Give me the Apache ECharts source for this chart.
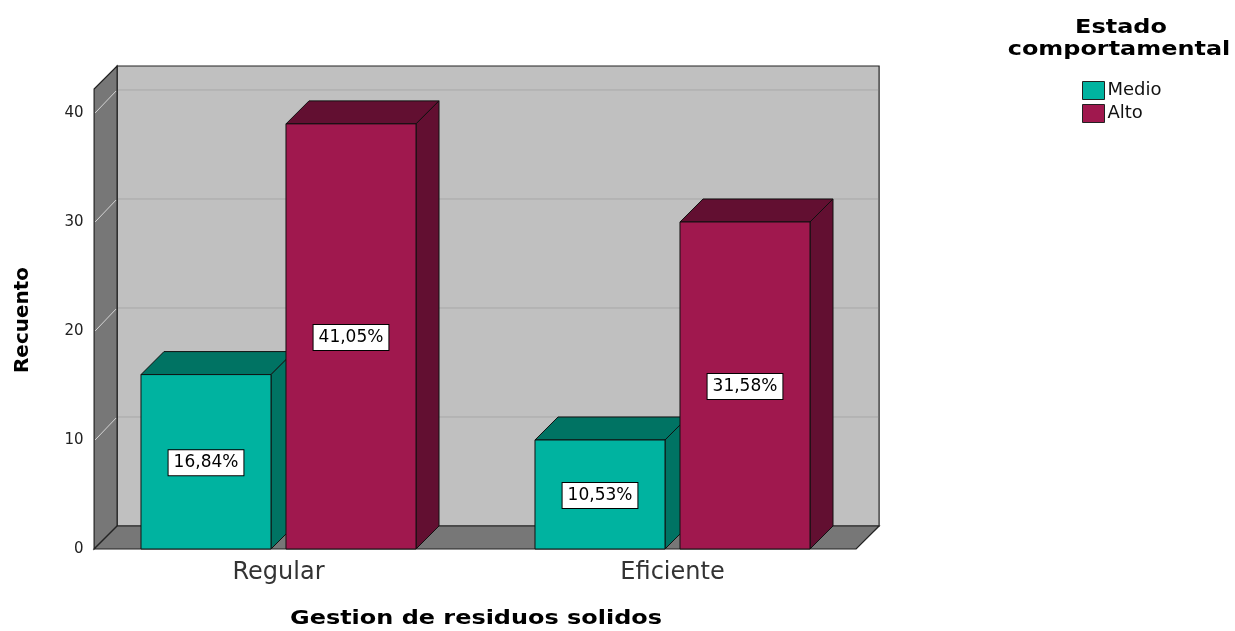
<!DOCTYPE html>
<html>
<head>
<meta charset="utf-8">
<script src="https://cdn.jsdelivr.net/npm/echarts@6/dist/echarts.min.js"></script>
<style>
  html, body { margin: 0; padding: 0; background: #fff; }
  #main { width: 1235px; height: 631px; }
</style>
</head>
<body>
<div id="main"></div>
<script>
var categories = ["Regular", "Eficiente"];
var medio = [16, 10];
var alto = [39, 30];
var yMax = 42.2;
var yInterval = 10;

var total = medio.concat(alto).reduce(function (a, b) { return a + b; }, 0);

var dom = document.getElementById("main");
var chart = echarts.init(dom);

// depth of the fake 3d box, pixels
var D = 23;
var BAR_W = 0.33;

function pct(v) {
  return (v / total * 100).toFixed(2).replace(".", ",") + "%";
}

function toData(arr) {
  return arr.map(function (v, i) { return [i, v]; });
}

function barRenderer(offset, front, dark) {
  return function (params, api) {
    var cat = api.value(0);
    var val = api.value(1);
    var top = api.coord([cat, val]);
    var base = api.coord([cat, 0]);
    var band = api.size([1, 0])[0];
    var w = band * BAR_W;
    var x = top[0] + band * offset;
    var yT = top[1], yB = base[1];
    var edge = { stroke: "#111", lineWidth: 1 };
    return {
      type: "group",
      children: [
        {
          type: "polygon",
          shape: { points: [[x, yT], [x + D, yT - D], [x + w + D, yT - D], [x + w, yT]] },
          style: Object.assign({ fill: dark }, edge)
        },
        {
          type: "polygon",
          shape: { points: [[x + w, yT], [x + w + D, yT - D], [x + w + D, yB - D], [x + w, yB]] },
          style: Object.assign({ fill: dark }, edge)
        },
        {
          type: "rect",
          shape: { x: x, y: yT, width: w, height: yB - yT },
          style: Object.assign({ fill: front }, edge)
        },
        {
          type: "text",
          x: x + w / 2,
          y: (yT + yB) / 2 + 1,
          style: {
            text: pct(val),
            fill: "#000",
            font: '17px "DejaVu Sans"',
            align: "center",
            verticalAlign: "middle",
            backgroundColor: "#fff",
            borderColor: "#000",
            borderWidth: 1,
            padding: [4, 5]
          }
        }
      ]
    };
  };
}

function wallRenderer(params, api) {
  var c0 = api.coord([0, 0]);
  var c1 = api.coord([1, 0]);
  var band = api.size([1, 0])[0];
  var xl = c0[0] - 0.468 * band;
  var xr = c1[0] + 0.466 * band;
  var y0 = c0[1];
  var yT = api.coord([0, yMax])[1];
  var edge = { stroke: "#222", lineWidth: 1.2 };
  var kids = [
    {
      type: "rect",
      shape: { x: xl + D, y: yT - D, width: xr - xl, height: y0 - yT },
      style: Object.assign({ fill: "#c0c0c0" }, edge)
    },
    {
      type: "polygon",
      shape: { points: [[xl, yT], [xl + D, yT - D], [xl + D, y0 - D], [xl, y0]] },
      style: Object.assign({ fill: "#777777" }, edge)
    },
    {
      type: "polygon",
      shape: { points: [[xl, y0], [xr, y0], [xr + D, y0 - D], [xl + D, y0 - D]] },
      style: Object.assign({ fill: "#777777" }, edge)
    }
  ];
  for (var v = yInterval; v <= yMax; v += yInterval) {
    var y = api.coord([0, v])[1];
    kids.push({
      type: "line",
      shape: { x1: xl + D + 1, y1: y - D, x2: xr + D - 1, y2: y - D },
      style: { stroke: "#a8a8a8", lineWidth: 1 }
    });
    kids.push({
      type: "line",
      shape: { x1: xl + 1, y1: y, x2: xl + D - 1, y2: y - D + 1 },
      style: { stroke: "#d4d4d4", lineWidth: 1 }
    });
  }
  return { type: "group", children: kids };
}

var boldFont = 'bold 19px "DejaVu Sans"';

chart.setOption({
  animation: false,
  grid: { left: 81.5, width: 788, top: 89, bottom: 82 },
  xAxis: {
    type: "category",
    data: categories,
    axisLine: { show: false },
    axisTick: { show: false },
    axisLabel: {
      color: "#333",
      fontFamily: "DejaVu Sans",
      fontSize: 24,
      margin: 12
    }
  },
  yAxis: {
    type: "value",
    min: 0,
    max: yMax,
    interval: yInterval,
    axisLine: { show: false },
    axisTick: { show: false },
    splitLine: { show: false },
    axisLabel: {
      color: "#222",
      fontFamily: "DejaVu Sans",
      fontSize: 15,
      margin: -2,
      showMaxLabel: false
    }
  },
  legend: {
    orient: "vertical",
    left: 1077,
    top: 76,
    itemWidth: 22,
    itemHeight: 18,
    itemGap: 4,
    icon: "rect",
    data: ["Medio", "Alto"],
    itemStyle: { borderColor: "#222", borderWidth: 1 },
    textStyle: { color: "#111", fontFamily: "DejaVu Sans", fontSize: 18, padding: [0, 0, 0, -2] }
  },
  graphic: [
    {
      type: "text", x: 476, y: 619, scaleX: 1.26,
      style: { text: "Gestion de residuos solidos", font: boldFont, fill: "#000", align: "center", verticalAlign: "middle" }
    },
    {
      type: "text", x: 23, y: 320, rotation: Math.PI / 2,
      style: { text: "Recuento", font: 'bold 20px "DejaVu Sans"', fill: "#000", align: "center", verticalAlign: "middle" }
    },
    {
      type: "text", x: 1121, y: 28, scaleX: 1.26,
      style: { text: "Estado", font: boldFont, fill: "#000", align: "center", verticalAlign: "middle" }
    },
    {
      type: "text", x: 1119, y: 50, scaleX: 1.26,
      style: { text: "comportamental", font: boldFont, fill: "#000", align: "center", verticalAlign: "middle" }
    }
  ],
  series: [
    {
      type: "custom",
      name: "walls",
      z: 1,
      silent: true,
      renderItem: wallRenderer,
      data: [[0, 0]]
    },
    {
      type: "custom",
      name: "Medio",
      z: 2,
      itemStyle: { color: "#00b3a0" },
      renderItem: barRenderer(-0.349, "#00b3a0", "#007363"),
      data: toData(medio)
    },
    {
      type: "custom",
      name: "Alto",
      z: 3,
      itemStyle: { color: "#a0184e" },
      renderItem: barRenderer(0.019, "#a0184e", "#620f31"),
      data: toData(alto)
    }
  ]
});
</script>
</body>
</html>
